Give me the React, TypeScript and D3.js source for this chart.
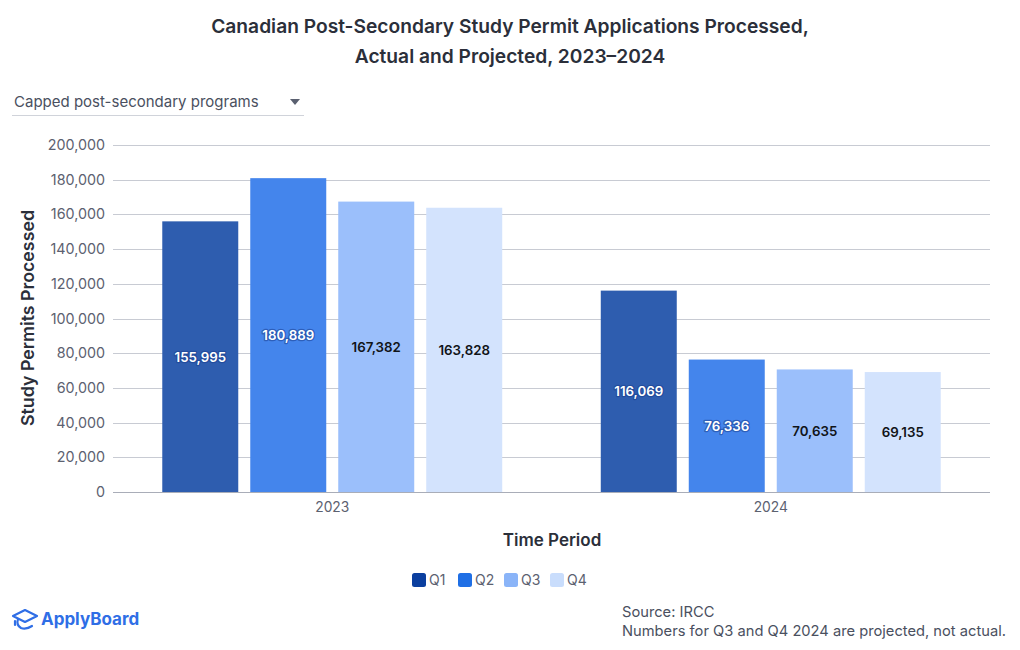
import React from "react";
import * as d3 from "d3";

const years = ["2023", "2024"];
const quarters = ["Q1", "Q2", "Q3", "Q4"];
const values2023 = [155995, 180889, 167382, 163828];
const values2024 = [116069, 76336, 70635, 69135];
const yTicks = [0, 20000, 40000, 60000, 80000, 100000, 120000, 140000, 160000, 180000, 200000];
const barColors = ["#2e5daf", "#4485ec", "#9bbffb", "#d3e3fd"];
const legendColors = ["#0b3f9f", "#1f6fe5", "#8ab4f8", "#c9ddfc"];
const labelDark = [true, true, false, false];

const FONT = "Inter, 'Noto Sans', sans-serif";

export default function App() {
  const W = 1020, H = 650;
  const left = 113, right = 990, top = 145, bottom = 492;
  const x0 = d3.scaleBand<string>().domain(years).range([left, right]).paddingInner(0).paddingOuter(0);
  const x1 = d3.scaleBand<string>().domain(quarters).range([0, x0.bandwidth()]).paddingInner(12 / 88).paddingOuter(0.56);
  const y = d3.scaleLinear().domain([0, 200000]).range([bottom, top]);
  const fmt = d3.format(",");
  const series = [values2023, values2024];

  return (
    <svg width={W} height={H} style={{ display: "block", position: "absolute", left: 0, top: 0 }} fontFamily={FONT}>
      <text x={510} y={33} textAnchor="middle" fontSize={19.2} fontWeight={600} fill="#2b2f3a">Canadian Post-Secondary Study Permit Applications Processed,</text>
      <text x={510} y={63} textAnchor="middle" fontSize={19.2} fontWeight={600} fill="#2b2f3a">Actual and Projected, 2023–2024</text>

      <text x={14} y={107} fontSize={15} fill="#4a5060">Capped post-secondary programs</text>
      <path d="M290,99 L300,99 L295,105 Z" fill="#5a6070" />
      <line x1={12} x2={304} y1={115.5} y2={115.5} stroke="#d0d3da" strokeWidth={1} />

      {yTicks.map((t) => (
        <g key={t}>
          <line x1={left} x2={right} y1={Math.round(y(t)) + 0.5} y2={Math.round(y(t)) + 0.5} stroke={t === 0 ? "#a9adb8" : "#c8cbd3"} strokeWidth={1} />
          <text x={105} y={y(t) + 5} textAnchor="end" fontSize={14.3} fill="#5c6170">{fmt(t)}</text>
        </g>
      ))}

      {years.map((yr, gi) => (
        <g key={yr} transform={`translate(${x0(yr)},0)`}>
          {quarters.map((q, qi) => {
            const v = series[gi][qi];
            const bx = x1(q)!;
            const bw = x1.bandwidth();
            const yTop = y(v);
            const mid = (yTop + bottom) / 2;
            return (
              <g key={q}>
                <rect x={bx} y={yTop} width={bw} height={bottom - yTop} fill={barColors[qi]} />
                {labelDark[qi] ? (
                  <text x={bx + bw / 2} y={mid + 5} textAnchor="middle" fontSize={13.3} fontWeight={600} fill="#ffffff" stroke="#1a3f8f" strokeWidth={2.5} strokeOpacity={0.55} paintOrder="stroke" strokeLinejoin="round">{fmt(v)}</text>
                ) : (
                  <text x={bx + bw / 2} y={mid + 5} textAnchor="middle" fontSize={13.3} fontWeight={600} fill="#111418">{fmt(v)}</text>
                )}
              </g>
            );
          })}
          <text x={x0.bandwidth() / 2} y={512} textAnchor="middle" fontSize={13.8} fill="#5c6170">{yr}</text>
        </g>
      ))}

      <text transform={`translate(34,318) rotate(-90)`} textAnchor="middle" fontSize={17.8} fontWeight={600} fill="#2b2f3a">Study Permits Processed</text>
      <text x={552} y={546} textAnchor="middle" fontSize={17} fontWeight={600} fill="#2b2f3a">Time Period</text>

      {quarters.map((q, i) => {
        const lx = 412 + i * 46;
        return (
          <g key={q}>
            <rect x={lx} y={573} width={14} height={14} rx={2.5} fill={legendColors[i]} />
            <text x={lx + 17} y={585} fontSize={14} fill="#5c6170">{q}</text>
          </g>
        );
      })}

      <g transform="translate(12,609)" fill="none" stroke="#2f6ee6" strokeWidth={2.2} strokeLinecap="round" strokeLinejoin="round">
        <path d="M1,7 L13,1 L25,7 L13,13 Z" />
        <path d="M6,10 Q4,16 9,19 Q14,21 20,17" />
        <path d="M3,12 L3,16" />
      </g>
      <text x={41} y={625} fontSize={17} fontWeight={700} fill="#2f6ee6">ApplyBoard</text>

      <text x={622} y={617} fontSize={14.7} fill="#4a5060">Source: IRCC</text>
      <text x={622} y={636} fontSize={14.7} fill="#4a5060">Numbers for Q3 and Q4 2024 are projected, not actual.</text>
    </svg>
  );
}
